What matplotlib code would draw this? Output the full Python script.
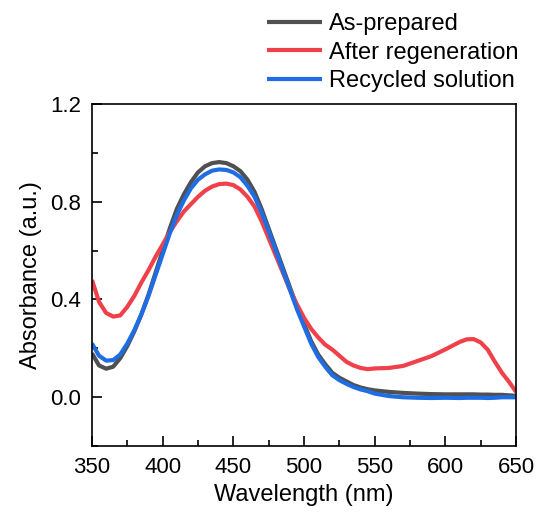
import numpy as np
import matplotlib.pyplot as plt

plt.rcParams['font.family'] = ['Liberation Sans', 'DejaVu Sans']

# wavelength grid (nm) and absorbance
wl = [350, 355, 360, 365, 370, 375, 380, 385, 390, 395, 400, 405, 410, 415,
      420, 425, 430, 435, 440, 445, 450, 455, 460, 465, 470, 475, 480, 485,
      490, 495, 500, 505, 510, 515, 520, 525, 530, 535, 540, 545, 550, 560,
      570, 580, 590, 600, 610, 615, 620, 625, 630, 635, 640, 645, 650]

as_prepared = [0.18, 0.13, 0.117, 0.125, 0.16, 0.21, 0.27, 0.34, 0.42, 0.51,
               0.60, 0.69, 0.77, 0.83, 0.88, 0.92, 0.945, 0.958, 0.962, 0.958,
               0.945, 0.925, 0.89, 0.84, 0.77, 0.69, 0.61, 0.53, 0.45, 0.37,
               0.30, 0.23, 0.175, 0.135, 0.10, 0.08, 0.065, 0.05, 0.04, 0.033,
               0.028, 0.022, 0.018, 0.015, 0.013, 0.012, 0.012, 0.012, 0.012,
               0.011, 0.011, 0.010, 0.010, 0.008, 0.006]

after_regen = [0.48, 0.39, 0.345, 0.33, 0.335, 0.37, 0.415, 0.47, 0.52, 0.575,
               0.625, 0.675, 0.72, 0.76, 0.79, 0.82, 0.845, 0.862, 0.872, 0.874,
               0.868, 0.85, 0.82, 0.78, 0.72, 0.65, 0.58, 0.51, 0.44, 0.38,
               0.325, 0.28, 0.245, 0.215, 0.195, 0.17, 0.145, 0.13, 0.12, 0.115,
               0.118, 0.12, 0.128, 0.148, 0.168, 0.196, 0.226, 0.237, 0.238, 0.224,
               0.194, 0.145, 0.10, 0.063, 0.022]

recycled = [0.22, 0.17, 0.15, 0.152, 0.175, 0.22, 0.275, 0.34, 0.415, 0.50,
            0.585, 0.67, 0.745, 0.805, 0.855, 0.89, 0.912, 0.927, 0.932, 0.93,
            0.92, 0.9, 0.865, 0.82, 0.755, 0.68, 0.60, 0.52, 0.44, 0.36,
            0.29, 0.22, 0.165, 0.125, 0.09, 0.07, 0.055, 0.042, 0.032, 0.025,
            0.015, 0.005, 0.0, -0.002, -0.003, -0.002, -0.003, -0.002, -0.002,
            -0.002, -0.003, -0.002, 0.0, 0.0, 0.0]

labels = ['As-prepared', 'After regeneration', 'Recycled solution']
colors = ['#505050', '#f0414a', '#1f6de3']

fig = plt.figure(figsize=(5.41, 5.17), dpi=100)
ax = fig.add_axes([0.170, 0.137, 0.784, 0.662])

for y, lab, c in zip([as_prepared, after_regen, recycled], labels, colors):
    ax.plot(wl, y, color=c, linewidth=3, label=lab, solid_capstyle='butt')

ax.set_xlim(350, 650)
ax.set_ylim(-0.2, 1.2)
ax.set_xticks(np.arange(350, 651, 50))
ax.set_xticks(np.arange(375, 650, 50), minor=True)
ax.set_yticks([0.0, 0.4, 0.8, 1.2])
ax.set_yticks([-0.2, 0.2, 0.6, 1.0], minor=True)
ax.tick_params(which='major', direction='in', length=7, width=1.2, labelsize=16, pad=8)
ax.tick_params(which='minor', direction='in', length=4, width=1.2)
for s in ax.spines.values():
    s.set_linewidth(1.2)

ax.set_xlabel('Wavelength (nm)', fontsize=17, labelpad=4)
ax.set_ylabel('Absorbance (a.u.)', fontsize=17, labelpad=6)

fig.legend(loc='upper left', bbox_to_anchor=(0.4935, 0.975), frameon=False,
           fontsize=17, handlelength=2.33, handletextpad=0.3,
           labelspacing=0.28, borderpad=0, borderaxespad=0)

plt.savefig('out.png', dpi=100)
